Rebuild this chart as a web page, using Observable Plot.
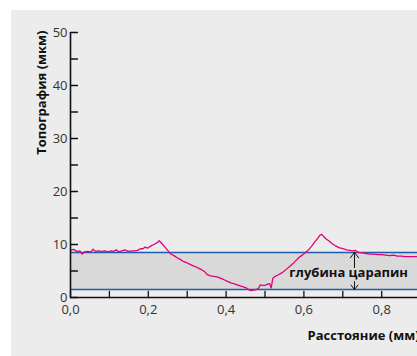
<!DOCTYPE html>
<html>
<head>
<meta charset="utf-8">
<script src="https://cdn.jsdelivr.net/npm/d3@7"></script>
<script src="https://cdn.jsdelivr.net/npm/@observablehq/plot@0.6"></script>
<style>
  html, body { margin: 0; padding: 0; background: #ffffff; overflow: hidden; }
  #panel {
    position: absolute; left: 11px; top: 10px;
    width: 406px; height: 346px;
    overflow: hidden; background: #ececec;
  }
  #panel svg { background: transparent; max-width: none !important; width: 470px !important; height: 346px !important; display: block; }
</style>
</head>
<body>
<div id="panel"></div>
<script>
// Surface profile across a scratch: distance (mm) vs topography (µm)
const distance = [
  0.000, 0.008, 0.016, 0.024, 0.030, 0.036, 0.044, 0.052, 0.058, 0.064,
  0.072, 0.080, 0.088, 0.096, 0.104, 0.110, 0.118, 0.124, 0.132, 0.140,
  0.148, 0.156, 0.164, 0.172, 0.180, 0.186, 0.192, 0.198, 0.206, 0.214,
  0.222, 0.228, 0.236, 0.244, 0.252, 0.258, 0.266, 0.274, 0.282, 0.290,
  0.298, 0.306, 0.314, 0.322, 0.330, 0.338, 0.346, 0.352, 0.360, 0.368,
  0.376, 0.384, 0.390, 0.396, 0.402, 0.408, 0.414, 0.420, 0.428, 0.436,
  0.444, 0.452, 0.458, 0.464, 0.470, 0.478, 0.484, 0.488, 0.494, 0.500,
  0.506, 0.512, 0.516, 0.520, 0.526, 0.532, 0.540, 0.548, 0.556, 0.564,
  0.572, 0.580, 0.588, 0.596, 0.604, 0.612, 0.620, 0.628, 0.636, 0.642,
  0.646, 0.652, 0.658, 0.664, 0.672, 0.680, 0.690, 0.700, 0.710, 0.718,
  0.726, 0.732, 0.740, 0.750, 0.760, 0.770, 0.780, 0.790, 0.800, 0.810,
  0.820, 0.830, 0.840, 0.850, 0.860, 0.870, 0.880, 0.890, 0.900, 0.920,
  0.940
];
const topography = [
  8.9, 9.1, 8.7, 8.8, 8.2, 8.6, 8.7, 8.6, 9.1, 8.7,
  8.8, 8.7, 8.8, 8.6, 8.8, 8.7, 9.0, 8.6, 8.8, 9.0,
  8.7, 8.8, 8.8, 8.9, 9.2, 9.2, 9.5, 9.3, 9.7, 10.0,
  10.3, 10.7, 10.1, 9.4, 8.7, 8.2, 7.9, 7.5, 7.2, 6.8,
  6.6, 6.3, 6.0, 5.8, 5.5, 5.2, 4.8, 4.3, 4.1, 4.0,
  3.9, 3.7, 3.5, 3.3, 3.1, 2.9, 2.7, 2.6, 2.4, 2.2,
  2.0, 1.8, 1.5, 1.3, 1.4, 1.5, 1.8, 2.4, 2.3, 2.3,
  2.5, 2.6, 1.8, 3.6, 4.0, 4.2, 4.5, 4.9, 5.4, 5.9,
  6.4, 7.0, 7.6, 8.0, 8.5, 9.0, 9.7, 10.5, 11.2, 11.8,
  11.9, 11.4, 11.0, 10.7, 10.2, 9.8, 9.4, 9.2, 9.0, 8.9,
  8.8, 8.9, 8.5, 8.4, 8.3, 8.2, 8.2, 8.1, 8.1, 8.0,
  7.9, 8.0, 7.8, 7.8, 7.7, 7.7, 7.7, 7.7, 7.6, 7.6,
  7.6
];

// Reference levels bounding the scratch depth
const bandTop = 8.5;
const bandBottom = 1.5;

// Depth annotation
const depthLabel = "глубина царапин";
const depthArrowX = 0.73;
const depthLabelX = 0.715;
const depthLabelY = 4.7;

// Axes
const xTicks = [0, 0.1, 0.2, 0.3, 0.4, 0.5, 0.6, 0.7, 0.8, 0.9];
const xLabels = ["0,0", "", "0,2", "", "0,4", "", "0,6", "", "0,8", ""];
const yTicks = [0, 5, 10, 15, 20, 25, 30, 35, 40, 45, 50];
const yLabels = ["0", "", "10", "", "20", "", "30", "", "40", "", "50"];
const xTitle = "Расстояние (мм)";
const yTitle = "Топография (мкм)";

const profile = distance.map((d, i) => ({distance: d, topography: topography[i]}));
const band = [{x1: 0, x2: 1, y1: bandBottom, y2: bandTop}];
const arrows = [
  {x: depthArrowX, y1: depthLabelY, y2: bandTop},
  {x: depthArrowX, y1: depthLabelY, y2: bandBottom}
];

const fmtX = d => xLabels[xTicks.indexOf(d)] ?? "";
const fmtY = d => yLabels[yTicks.indexOf(d)] ?? "";

// plain straight stroke used for the inward tick marks
const tickShape = {draw(context, l) { context.moveTo(0, 0); context.lineTo(0, -l); }};

const chart = Plot.plot({
  width: 470,
  height: 346,
  marginLeft: 59,
  marginTop: 22,
  marginBottom: 59,
  marginRight: 22,
  style: {fontFamily: "'Open Sans', sans-serif", fontSize: "13px", color: "#333", background: "transparent", overflow: "visible"},
  x: {domain: [0, 1], axis: null},
  y: {domain: [0, 50], axis: null},
  marks: [
    Plot.rect(band, {x1: "x1", x2: "x2", y1: "y1", y2: "y2", fill: "#d9d9d9"}),
    Plot.ruleY([bandTop, bandBottom], {stroke: "#1d5ea8", strokeWidth: 1.6}),
    Plot.line(profile, {x: "distance", y: "topography", stroke: "#e4007c", strokeWidth: 1.3}),
    // tick labels
    Plot.axisX({ticks: xTicks, tickFormat: fmtX, tickSize: 0, tickPadding: 7, fill: "#333"}),
    Plot.axisY({ticks: yTicks, tickFormat: fmtY, tickSize: 0, tickPadding: 3, fill: "#333"}),
    // inward-pointing tick marks
    Plot.vector(xTicks, {x: d => d, frameAnchor: "bottom", length: 6, rotate: 0, anchor: "start", shape: tickShape, stroke: "#111", strokeWidth: 1.3}),
    Plot.vector(yTicks, {y: d => d, frameAnchor: "left", length: 7, rotate: 90, anchor: "start", shape: tickShape, stroke: "#111", strokeWidth: 1.3}),
    Plot.ruleX([0], {y1: 0, y2: 50, stroke: "#111", strokeWidth: 1.6}),
    Plot.ruleY([0], {stroke: "#111", strokeWidth: 1.6}),
    Plot.arrow(arrows, {x: "x", y1: "y1", y2: "y2", stroke: "#111", strokeWidth: 1, headLength: 11, headAngle: 75}),
    Plot.text([depthLabel], {x: depthLabelX, y: depthLabelY, text: d => d, fontWeight: "bold", fontSize: 13, fill: "#111", stroke: "#d9d9d9", strokeWidth: 4}),
    Plot.text([xTitle], {frameAnchor: "bottom-left", text: d => d, textAnchor: "start", dx: 237, dy: 42, fontWeight: "bold", fontSize: 13, fill: "#111"}),
    Plot.text([yTitle], {frameAnchor: "top-left", text: d => d, rotate: -90, textAnchor: "end", dx: -34, dy: -2, fontWeight: "bold", fontSize: 13, fill: "#111"})
  ]
});

document.getElementById("panel").appendChild(chart);
</script>
</body>
</html>
